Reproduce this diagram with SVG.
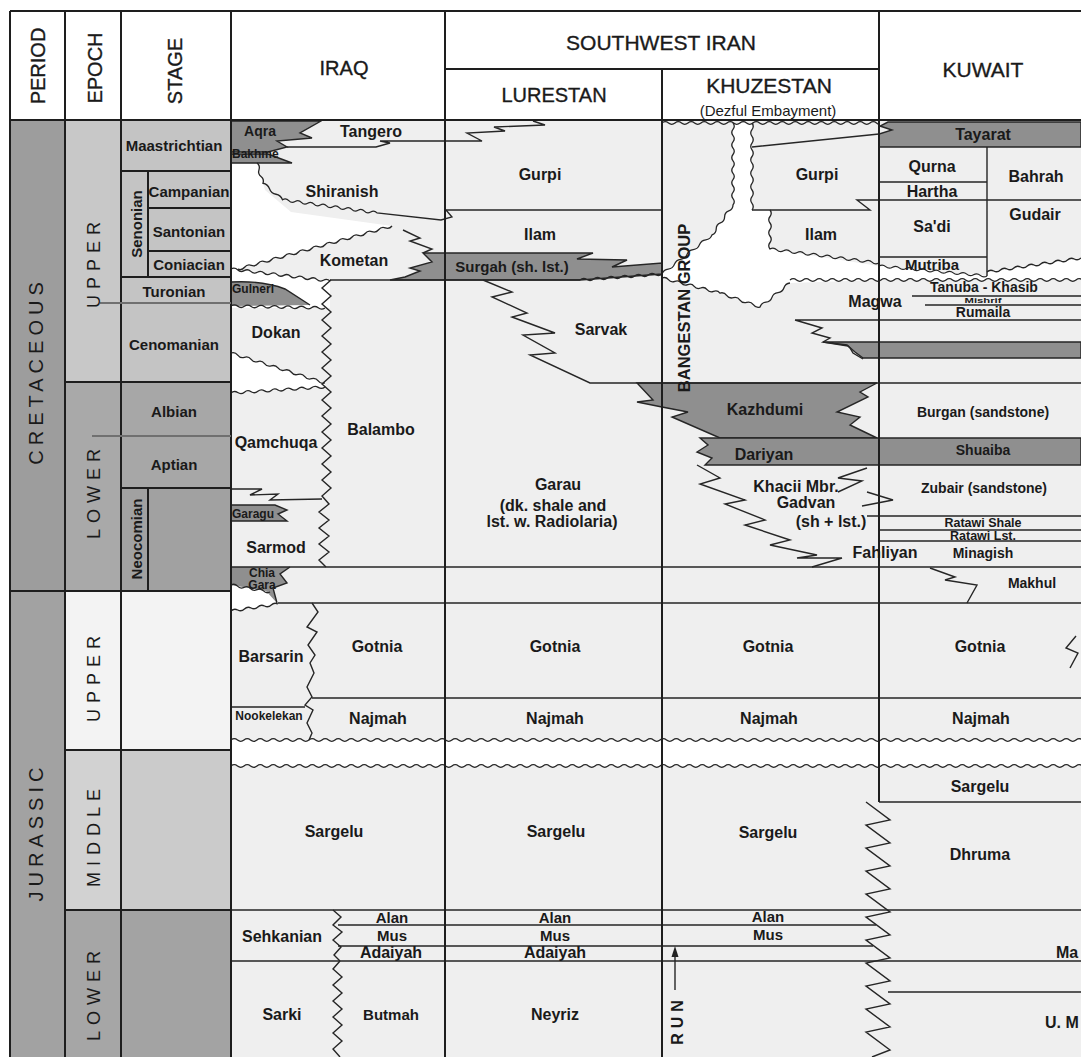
<svg xmlns="http://www.w3.org/2000/svg" width="1081" height="1057" viewBox="0 0 1081 1057">
<style>
text{font-family:"Liberation Sans",Arial,Helvetica,sans-serif;fill:#1a1a1a}
.h{font-size:20px;text-anchor:middle;stroke:#1a1a1a;stroke-width:0.35}
.f{font-size:16px;font-weight:bold;text-anchor:middle}
.f15{font-size:15px;font-weight:bold;text-anchor:middle}
.f14{font-size:14px;font-weight:bold;text-anchor:middle}
.f13{font-size:12.5px;font-weight:bold;text-anchor:middle}
.sm{font-size:12px;font-weight:bold}
.ep{font-size:18px;text-anchor:middle;letter-spacing:6px}
.pe{font-size:20px;text-anchor:middle;letter-spacing:5px}
.grid{stroke:#1e1e1e;stroke-width:2;fill:none}
.ln{stroke:#262626;stroke-width:1.4;fill:none;stroke-linejoin:miter}
.wv{stroke:#262626;stroke-width:1.3;fill:none}
.dk{fill:#8f8f8f;stroke:#262626;stroke-width:1.4}
.dkn{fill:#8f8f8f}
.wh{fill:#ffffff}
</style>
<defs>
<path id="wave" class="wv" d="M0 0q3.25-2.6 6.5 0t6.5 0t6.5 0t6.5 0t6.5 0t6.5 0t6.5 0t6.5 0t6.5 0t6.5 0t6.5 0t6.5 0t6.5 0t6.5 0t6.5 0t6.5 0t6.5 0t6.5 0t6.5 0t6.5 0t6.5 0t6.5 0t6.5 0t6.5 0t6.5 0t6.5 0t6.5 0t6.5 0t6.5 0t6.5 0t6.5 0t6.5 0t6.5 0t6.5 0t6.5 0t6.5 0t6.5 0t6.5 0t6.5 0t6.5 0t6.5 0t6.5 0t6.5 0t6.5 0t6.5 0t6.5 0t6.5 0t6.5 0t6.5 0t6.5 0t6.5 0t6.5 0t6.5 0t6.5 0t6.5 0t6.5 0t6.5 0t6.5 0t6.5 0t6.5 0t6.5 0t6.5 0t6.5 0t6.5 0t6.5 0t6.5 0t6.5 0t6.5 0t6.5 0t6.5 0t6.5 0t6.5 0t6.5 0t6.5 0t6.5 0t6.5 0t6.5 0t6.5 0t6.5 0t6.5 0t6.5 0t6.5 0t6.5 0t6.5 0t6.5 0t6.5 0t6.5 0t6.5 0t6.5 0t6.5 0t6.5 0t6.5 0t6.5 0t6.5 0t6.5 0t6.5 0t6.5 0t6.5 0t6.5 0t6.5 0t6.5 0t6.5 0t6.5 0t6.5 0t6.5 0t6.5 0t6.5 0t6.5 0t6.5 0t6.5 0t6.5 0t6.5 0t6.5 0t6.5 0t6.5 0t6.5 0t6.5 0t6.5 0t6.5 0t6.5 0t6.5 0t6.5 0t6.5 0t6.5 0t6.5 0t6.5 0t6.5 0t6.5 0t6.5 0t6.5 0t6.5 0t6.5 0t6.5 0t6.5 0t6.5 0t6.5 0t6.5 0t6.5 0t6.5 0t6.5 0t6.5 0t6.5 0t6.5 0t6.5 0t6.5 0t6.5 0"/>
<clipPath id="cKh"><rect x="662" y="110" width="217" height="30"/></clipPath>
</defs>

<g id="time-columns">
<rect x="10" y="11" width="1071" height="109" fill="#ffffff"/>
<rect x="10" y="120" width="55" height="471" fill="#9d9d9d"/>
<rect x="10" y="591" width="55" height="466" fill="#a2a2a2"/>
<rect x="65" y="120" width="56" height="262" fill="#c8c8c8"/>
<rect x="65" y="382" width="56" height="209" fill="#a9a9a9"/>
<rect x="65" y="591" width="56" height="159" fill="#f3f3f3"/>
<rect x="65" y="750" width="56" height="160" fill="#d2d2d2"/>
<rect x="65" y="910" width="56" height="147" fill="#a6a6a6"/>
<rect x="121" y="120" width="110" height="262" fill="#c4c4c4"/>
<rect x="121" y="382" width="110" height="106" fill="#a7a7a7"/>
<rect x="121" y="488" width="110" height="103" fill="#a1a1a1"/>
<rect x="121" y="591" width="110" height="159" fill="#f3f3f3"/>
<rect x="121" y="750" width="110" height="160" fill="#cbcbcb"/>
<rect x="121" y="910" width="110" height="147" fill="#a3a3a3"/>
</g>

<g id="formation-fill">
<rect x="231" y="120" width="850" height="937" fill="#efefef"/>
<path class="wh" d="M231 163H257L265 190L291 212L392 226L231 271Z"/>
<path class="wh" d="M231 269L330 281V308H231Z"/>
<path class="wh" d="M231 353L325 383V387L231 393Z"/>
<path class="wh" d="M231 585L270 592L278 604L231 611Z"/>
<path class="wh" d="M733 123V205L712 235L662 274V278L720 293L760 307L790 283L879 280L1081 280V258L987 272V276L879 266L770 249V210L752 210V123Z"/>
<rect class="wh" x="231" y="740" width="850" height="26"/>
<path class="dk" d="M231 121H321L300 133L312 138L277 141L287 147L268 152H231Z"/>
<path class="dk" d="M231 154H268L292 163H231Z"/>
<path class="dk" d="M423 253H593L577 259L627 260L612 267L662 263V274L580 280H390L405 277L420 271L410 268L432 262Z"/>
<path class="dkn" d="M231 282C250 281 270 283 285 289L310 305L231 306Z"/>
<path class="dk" d="M231 505H275L287 510L278 514L287 521H231Z"/>
<path class="dkn" d="M231 567H290L280 574L287 583L273 588L277 603L266 591L231 585Z"/>
<path class="dk" d="M888 122H1081V147H879V134L892 130L880 126Z"/>
<path class="dk" d="M823 342H1081V358H863L855 352L848 346Z"/>
<path class="dk" d="M637 383H877L860 392L868 397L837 412L860 417L850 425L877 438H720L672 417L688 412L662 407L637 402L653 400Z"/>
<path class="dk" d="M700 438H1081V465H705L712 458L697 452L708 445Z"/>
</g>

<g id="connectors">
<path class="ln" d="M287 147H376L390 143L380 141H482L467 133L505 131L494 127L545 125L533 121"/>
<path class="wv" d="M257 163q3.4 2.7 2 6.75t2 6.75t2 6.75q4.85 0.85 6.5 5.5t6.5 5.5t6.5 5.5q3.5-2.06 6.3 0.875t6.3 0.875t6.3 0.875t6.3 0.875t6.3 0.875t6.3 0.875t6.3 0.875t6.3 0.875t6.3 0.875t6.3 0.875t6.3 0.875t6.3 0.875t6.3 0.875t6.3 0.875t6.3 0.875L441 220L452 217L446 210"/>
<path class="wv" d="M392 226q-2.68 3.34-6.7 1.875t-6.7 1.875t-6.7 1.875t-6.7 1.875t-6.7 1.875t-6.7 1.875t-6.7 1.875t-6.7 1.875t-6.7 1.875t-6.7 1.875t-6.7 1.875t-6.7 1.875t-6.7 1.875t-6.7 1.875t-6.7 1.875t-6.7 1.875t-6.7 1.875t-6.7 1.875t-6.7 1.875t-6.7 1.875t-6.7 1.875t-6.7 1.875t-6.7 1.875"/>
<path class="ln" d="M403 230L420 238L410 241L432 249L423 253"/>
<path class="wv" d="M231 269q3.6-2.1 6.6 0.8t6.6 0.8t6.6 0.8t6.6 0.8t6.6 0.8t6.6 0.8t6.6 0.8t6.6 0.8t6.6 0.8t6.6 0.8t6.6 0.8t6.6 0.8t6.6 0.8t6.6 0.8t6.6 0.8"/>
<path class="ln" d="M231 282C250 281 270 283 285 289L310 305"/>
<path class="wv" d="M231 306q3.36-2.43 6.71 0.14t6.71 0.14t6.71 0.14t6.71 0.14t6.71 0.14t6.71 0.14t6.71 0.14t6.71 0.14t6.71 0.14t6.71 0.14t6.71 0.14t6.71 0.14t6.71 0.14t6.71 0.14"/>
<path class="ln" d="M330 280H580"/>
<path class="wv" d="M580 280q3.24-2.74 6.83-0.5t6.83-0.5t6.83-0.5t6.83-0.5t6.83-0.5t6.83-0.5t6.83-0.5t6.83-0.5t6.83-0.5t6.83-0.5t6.83-0.5t6.83-0.5"/>
<path class="ln" d="M331 280L322 288L331 296L322 304L331 312L322 320L331 328L322 336L331 344L322 352L331 360L322 368L331 376L322 384L331 392L322 400L331 408L322 416L331 424L322 432L331 440L322 448L331 456L322 464L331 472L322 480L331 488L322 496L329 504L319 512L329 520L319 528L329 536L319 544L329 552L319 560L326 567"/>
<path class="wv" d="M231 353q4.12-1.31 6.71 2.14t6.71 2.14t6.71 2.14t6.71 2.14t6.71 2.14t6.71 2.14t6.71 2.14t6.71 2.14t6.71 2.14t6.71 2.14t6.71 2.14t6.71 2.14t6.71 2.14t6.71 2.14"/>
<path class="wv" d="M231 393q3.2-2.71 6.71-0.43t6.71-0.43t6.71-0.43t6.71-0.43t6.71-0.43t6.71-0.43t6.71-0.43t6.71-0.43t6.71-0.43t6.71-0.43t6.71-0.43t6.71-0.43t6.71-0.43t6.71-0.43"/>
<path class="ln" d="M231 489H262L250 495L278 494L270 500L322 499"/>
<path class="ln" d="M231 567H1081M278 603H1081"/>
<path class="wv" d="M231 585q3.69-1.88 6.5 1.17t6.5 1.17t6.5 1.17t6.5 1.17t6.5 1.17t6.5 1.17"/>
<path class="ln" d="M290 567L280 574L287 583L273 588L277 603"/>
<path class="wv" d="M231 611q2.99-2.97 6.71-1t6.71-1t6.71-1t6.71-1t6.71-1t6.71-1t6.71-1"/>
<path class="ln" d="M312 603L318 612L307 627L317 632L308 645L315 655L310 663L314 673L307 687L312 697L305 705L313 710L307 723L312 733L309 740"/>
<path class="ln" d="M312 698H1081M231 707H305"/>
<use href="#wave" x="231" y="740"/>
<use href="#wave" x="231" y="766"/>
<path class="ln" d="M231 910H1081M338 925H876M338 946H873M231 961H1081"/>
<path class="ln" d="M333 910L341 917L333 925L342 932L333 940L341 947L334 955L340 961"/>
<path class="ln" d="M340 961L333 969L342 977L333 985L342 993L333 1001L342 1009L333 1017L342 1025L333 1033L342 1041L333 1049L340 1057"/>
<path class="ln" d="M445 210H662"/>
<path class="ln" d="M483 280L512 292L492 297L527 313L512 317L555 333L523 335L555 353L530 355L590 383H1081"/>
<g clip-path="url(#cKh)"><use href="#wave" x="662" y="123"/></g>
<path class="wv" d="M733 123q2.5 3.15 0 6.3t0 6.3t0 6.3t0 6.3t0 6.3t0 6.3t0 6.3t0 6.3t0 6.3t0 6.3t0 6.3t0 6.3t0 6.3q-0.05 4.44-4.2 6t-4.2 6t-4.2 6t-4.2 6t-4.2 6q-1.59 4.41-6.25 4.875t-6.25 4.875t-6.25 4.875t-6.25 4.875t-6.25 4.875t-6.25 4.875t-6.25 4.875t-6.25 4.875"/>
<path class="wv" d="M752 123q2.5 3.35 0 6.7t0 6.7t0 6.7t0 6.7t0 6.7t0 6.7t0 6.7t0 6.7t0 6.7t0 6.7t0 6.7t0 6.7t0 6.7"/>
<path class="wv" d="M770 210q2.5 3.25 0 6.5t0 6.5t0 6.5t0 6.5t0 6.5t0 6.5q3.72-2.04 6.8 0.875t6.8 0.875t6.8 0.875t6.8 0.875t6.8 0.875t6.8 0.875t6.8 0.875t6.8 0.875t6.8 0.875t6.8 0.875t6.8 0.875t6.8 0.875t6.8 0.875t6.8 0.875t6.8 0.875t6.8 0.875"/>
<path class="wv" d="M662 278q3.85-1.59 6.44 1.67t6.44 1.67t6.44 1.67t6.44 1.67t6.44 1.67t6.44 1.67t6.44 1.67t6.44 1.67t6.44 1.67q4.15-1.19 6.67 2.33t6.67 2.33t6.67 2.33t6.67 2.33t6.67 2.33t6.67 2.33q1.44-4.35 6-4.8t6-4.8t6-4.8t6-4.8t6-4.8"/>
<use href="#wave" x="790" y="280"/>
<path class="ln" d="M752 147L879 134M752 210H870L857 200H1081M879 182H987M879 257H987M987 147V276"/>
<path class="wv" d="M879 266q3.6-2.18 6.75 0.625t6.75 0.625t6.75 0.625t6.75 0.625t6.75 0.625t6.75 0.625t6.75 0.625t6.75 0.625t6.75 0.625t6.75 0.625t6.75 0.625t6.75 0.625t6.75 0.625t6.75 0.625t6.75 0.625t6.75 0.625"/>
<path class="wv" d="M987 272q2.99-2.97 6.71-1t6.71-1t6.71-1t6.71-1t6.71-1t6.71-1t6.71-1t6.71-1t6.71-1t6.71-1t6.71-1t6.71-1t6.71-1t6.71-1"/>
<path class="ln" d="M912 296H1081M925 305H1081M795 320H1081M795 320L822 328L812 333L830 338L823 342L847 345L850 348L853 353L863 359"/>
<path class="ln" d="M867 516H1081M879 530H1081M879 541H1081"/>
<path class="ln" d="M697 465L720 478L700 484L745 500L725 504L765 520L745 525L790 540L770 545L817 555L797 558L842 558L812 567"/>
<path class="ln" d="M867 468L838 478L862 481L838 492M867 492L893 500L862 506"/>
<path class="ln" d="M930 568L955 577L945 580L977 585L967 603"/>
<path class="ln" d="M1076 636L1066 648L1078 653L1070 668"/>
<path class="ln" d="M879 802H1081M888 992H1081"/>
<path class="ln" d="M866 802L890 820L866 825L890 843L866 848L890 866L866 871L890 889L866 894L890 912L866 917L890 935L866 940L890 958L866 963L890 981L866 986L890 1004L866 1009L890 1027L866 1032L890 1050L872 1057"/>
<path class="ln" d="M675 990V956" stroke-width="1.6"/>
<path d="M675 946L671.5 957H678.5Z" fill="#222"/>
</g>

<g id="grid">
<path class="grid" d="M10 11H1081M10 11V1057M65 11V1057M121 11V1057M231 11V1057M445 11V1057M662 69V1057M879 11V802M445 69H879M10 120H1081"/>
<path class="grid" d="M121 171H231M148 171V277M148 208H231M148 251H231M121 277H231M65 382H231M121 488H231M148 488V591M10 591H231M65 750H231M65 910H231"/>
<path d="M100 303H231M92 436H231" stroke="#707070" stroke-width="1.8"/>
</g>

<g id="labels">
<text class="h" transform="translate(45,66) rotate(-90)">PERIOD</text>
<text class="h" transform="translate(102,68) rotate(-90)">EPOCH</text>
<text class="h" transform="translate(182,71) rotate(-90)">STAGE</text>
<text class="h" x="344" y="75">IRAQ</text>
<text class="h" x="661" y="50" style="font-size:21px">SOUTHWEST IRAN</text>
<text class="h" x="554" y="102">LURESTAN</text>
<text class="h" x="769" y="93" style="font-size:21px">KHUZESTAN</text>
<text x="768" y="116" style="font-size:15px;text-anchor:middle">(Dezful Embayment)</text>
<text class="h" x="983" y="77" style="font-size:21px">KUWAIT</text>

<text class="pe" transform="translate(43,371) rotate(-90)">CRETACEOUS</text>
<text class="pe" transform="translate(43,832) rotate(-90)">JURASSIC</text>
<text class="ep" transform="translate(100,262) rotate(-90)">UPPER</text>
<text class="ep" transform="translate(100,491) rotate(-90)">LOWER</text>
<text class="ep" transform="translate(100,676) rotate(-90)">UPPER</text>
<text class="ep" transform="translate(100,835) rotate(-90)">MIDDLE</text>
<text class="ep" transform="translate(100,993) rotate(-90)">LOWER</text>

<text class="f15" x="174" y="151">Maastrichtian</text>
<text class="f15" transform="translate(142,224) rotate(-90)">Senonian</text>
<text class="f15" x="189" y="197">Campanian</text>
<text class="f15" x="189" y="237">Santonian</text>
<text class="f15" x="189" y="270">Coniacian</text>
<text class="f15" x="174" y="297">Turonian</text>
<text class="f15" x="174" y="350">Cenomanian</text>
<text class="f15" x="174" y="417">Albian</text>
<text class="f15" x="174" y="470">Aptian</text>
<text class="f15" transform="translate(142,539) rotate(-90)">Neocomian</text>

<text class="f14" x="260" y="136">Aqra</text>
<text class="f" x="371" y="137">Tangero</text>
<text class="sm" x="232" y="158">Bakhme</text>
<text class="f" x="342" y="197">Shiranish</text>
<text class="f" x="354" y="266">Kometan</text>
<text class="sm" x="232" y="293">Gulneri</text>
<text class="f" x="276" y="338">Dokan</text>
<text class="f" x="276" y="448">Qamchuqa</text>
<text class="f" x="381" y="435">Balambo</text>
<text class="sm" x="232" y="518">Garagu</text>
<text class="f" x="276" y="553">Sarmod</text>
<text class="sm" x="262" y="577" style="text-anchor:middle">Chia</text>
<text class="sm" x="262" y="589" style="text-anchor:middle">Gara</text>
<text class="f" x="271" y="662">Barsarin</text>
<text class="f" x="377" y="652">Gotnia</text>
<text class="sm" x="269" y="720" style="text-anchor:middle">Nookelekan</text>
<text class="f" x="378" y="724">Najmah</text>
<text class="f" x="334" y="837">Sargelu</text>
<text class="f" x="282" y="942">Sehkanian</text>
<text class="f15" x="392" y="923">Alan</text>
<text class="f15" x="392" y="941">Mus</text>
<text class="f" x="391" y="958">Adaiyah</text>
<text class="f" x="282" y="1020">Sarki</text>
<text class="f15" x="391" y="1020">Butmah</text>

<text class="f" x="540" y="180">Gurpi</text>
<text class="f" x="540" y="240">Ilam</text>
<text class="f15" x="512" y="272">Surgah (sh. lst.)</text>
<text class="f" x="601" y="335">Sarvak</text>
<text class="f" x="558" y="490">Garau</text>
<text class="f" x="553" y="511">(dk. shale and</text>
<text class="f" x="552" y="527">lst. w. Radiolaria)</text>
<text class="f" x="555" y="652">Gotnia</text>
<text class="f" x="555" y="724">Najmah</text>
<text class="f" x="556" y="837">Sargelu</text>
<text class="f15" x="555" y="923">Alan</text>
<text class="f15" x="555" y="941">Mus</text>
<text class="f" x="555" y="958">Adaiyah</text>
<text class="f" x="555" y="1020">Neyriz</text>

<text class="f" style="font-size:16.5px" transform="translate(690,308) rotate(-90)">BANGESTAN GROUP</text>
<text class="f" x="817" y="180">Gurpi</text>
<text class="f" x="821" y="240">Ilam</text>
<text class="f" x="875" y="307">Magwa</text>
<text class="f" x="765" y="415">Kazhdumi</text>
<text class="f" x="764" y="460">Dariyan</text>
<text class="f" x="796" y="492">Khacii Mbr.</text>
<text class="f" x="806" y="508">Gadvan</text>
<text class="f" x="831" y="527">(sh + lst.)</text>
<text class="f" x="885" y="558">Fahliyan</text>
<text class="f" x="768" y="652">Gotnia</text>
<text class="f" x="769" y="724">Najmah</text>
<text class="f" x="768" y="838">Sargelu</text>
<text class="f15" x="768" y="922">Alan</text>
<text class="f15" x="768" y="940">Mus</text>
<text class="f" style="letter-spacing:5px" transform="translate(683,1020) rotate(-90)">RUN</text>

<text class="f" x="983" y="140">Tayarat</text>
<text class="f" x="932" y="172">Qurna</text>
<text class="f" x="932" y="197">Hartha</text>
<text class="f" x="1036" y="182">Bahrah</text>
<text class="f" x="1035" y="220">Gudair</text>
<text class="f" x="932" y="232">Sa'di</text>
<text class="f15" x="932" y="270">Mutriba</text>
<text class="f14" x="984" y="292">Tanuba - Khasib</text>
<text class="f" x="983" y="303" style="font-size:8px" textLength="37" lengthAdjust="spacingAndGlyphs">Mishrif</text>
<text class="f14" x="983" y="317">Rumaila</text>
<text class="f14" x="983" y="417">Burgan (sandstone)</text>
<text class="f14" x="983" y="455">Shuaiba</text>
<text class="f14" x="984" y="493">Zubair (sandstone)</text>
<text class="f13" x="983" y="527">Ratawi Shale</text>
<text class="f13" x="983" y="540">Ratawi Lst.</text>
<text class="f14" x="983" y="558">Minagish</text>
<text class="f14" x="1032" y="588">Makhul</text>
<text class="f" x="980" y="652">Gotnia</text>
<text class="f" x="981" y="724">Najmah</text>
<text class="f" x="980" y="792">Sargelu</text>
<text class="f" x="980" y="860">Dhruma</text>
<text class="f" x="1056" y="958" style="text-anchor:start">Ma</text>
<text class="f" x="1045" y="1028" style="text-anchor:start">U. M</text>
</g>
</svg>
